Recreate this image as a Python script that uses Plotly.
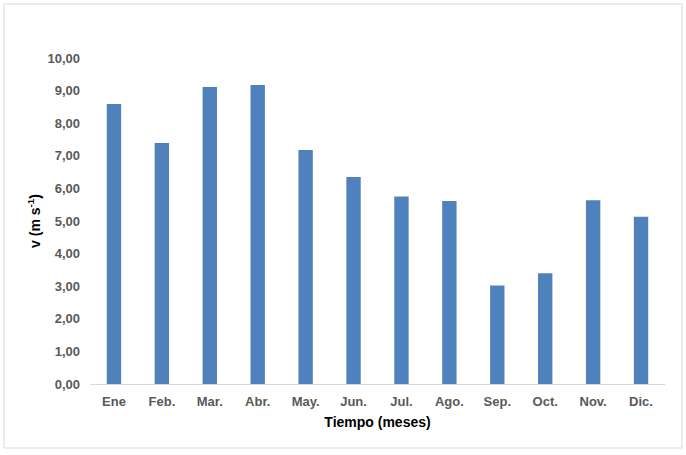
import plotly.graph_objects as go

months = ["Ene", "Feb.", "Mar.", "Abr.", "May.", "Jun.", "Jul.", "Ago.", "Sep.", "Oct.", "Nov.", "Dic."]
velocity = [8.59, 7.39, 9.11, 9.17, 7.18, 6.35, 5.75, 5.61, 3.02, 3.40, 5.64, 5.13]
y_ticks = [0, 1, 2, 3, 4, 5, 6, 7, 8, 9, 10]

W, H = 686, 455
L, R, T, B = 90, 21, 58, 71
pw, ph = W - L - R, H - T - B

fig = go.Figure(go.Bar(x=months, y=velocity, marker_color="#4f81bd", marker_line_width=0, width=0.3))

fig.update_layout(
    width=W, height=H,
    margin=dict(l=L, r=R, t=T, b=B),
    paper_bgcolor="white", plot_bgcolor="white",
    separators=",.",
    showlegend=False,
    font=dict(family="Liberation Sans, Arial, sans-serif"),
    xaxis=dict(
        showgrid=False, showline=True, linecolor="#d9d9d9", linewidth=1,
        ticks="", ticklabelstandoff=5,
        tickfont=dict(size=13, color="#595959", weight="bold"),
        title=dict(text="Tiempo (meses)", font=dict(size=14, color="#000000", weight="bold"), standoff=9),
    ),
    yaxis=dict(
        range=[0, 10], tickvals=y_ticks, tickformat=".2f",
        showgrid=False, zeroline=False, showline=False, ticks="",
        ticklabelstandoff=9,
        tickfont=dict(size=13, color="#595959", weight="bold"),
        title=dict(text="v (m s<sup>-1</sup>)", font=dict(size=14, color="#000000", weight="bold"), standoff=3),
    ),
    shapes=[dict(
        type="rect", xref="paper", yref="paper",
        x0=(4 - L) / pw, x1=(682 - L) / pw,
        y0=(H - B - 448) / ph, y1=(H - B - 4) / ph,
        line=dict(color="#d9d9d9", width=1), fillcolor="rgba(0,0,0,0)", layer="below",
    )],
)

fig.write_html(
    "out.html",
    config={"displayModeBar": False},
    post_script="document.body.style.margin='0';document.body.style.overflow='hidden';",
)
